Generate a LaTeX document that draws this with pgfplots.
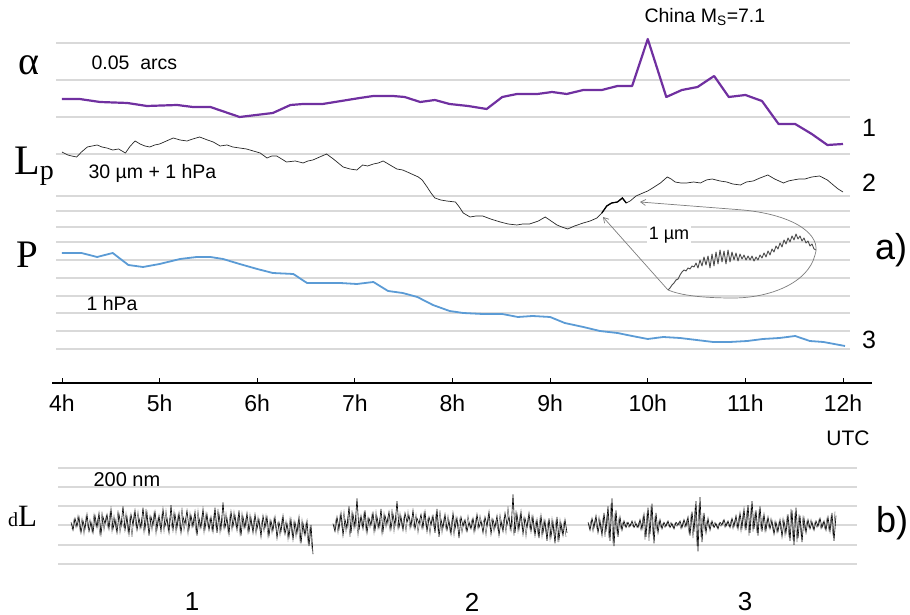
\documentclass[border=0pt]{standalone}
\usepackage{fontspec}
\setmainfont{Liberation Sans}
\newfontfamily\serifL{Liberation Serif}
\usepackage{pgfplots}
\pgfplotsset{compat=1.18}
\usetikzlibrary{arrows.meta}
\definecolor{alphacol}{RGB}{112,48,160}
\definecolor{pcol}{RGB}{91,155,213}
\definecolor{gridcol}{RGB}{217,217,217}
\definecolor{callout}{RGB}{125,125,125}
\definecolor{insetcol}{RGB}{75,75,75}
\definecolor{noisegray}{RGB}{110,110,110}
\newcommand{\fs}[1]{\fontsize{#1}{#1}\selectfont}

\begin{document}
\begin{tikzpicture}
\path[use as bounding box] (0pt,0pt) rectangle (910pt,615pt);

% horizontal guide lines, panel a
\foreach \y in {572,535,498,461,419,404,388,373,355,337,319,302,284,266}
  \draw[gridcol, line width=1.2pt] (56pt,\y pt) -- (850pt,\y pt);
% horizontal guide lines, panel b
\foreach \y in {147,128,109,90,70,51}
  \draw[gridcol, line width=1.2pt] (58pt,\y pt) -- (857pt,\y pt);

% ---------------- panel a ----------------
\begin{axis}[
  at={(52pt,232pt)}, anchor=south west, scale only axis,
  width=820pt, height=383pt,
  xmin=3.898, xmax=12.297, ymin=232, ymax=615,
  axis x line*=bottom, axis y line=none,
  xtick={4,5,6,7,8,9,10,11,12},
  xticklabels={4h,5h,6h,7h,8h,9h,10h,11h,12h},
  tick align=inside, major tick length=5pt,
  axis line style={line width=1.3pt, black},
  xtick style={line width=0.9pt, black},
  xticklabel style={font=\fs{23}, yshift=-8pt},
  clip=false,
]
% alpha, tilt (0.05 arcs scale)
\addplot[alphacol, line width=2.2pt, line join=round] coordinates {
(4.00,516) (4.18,516) (4.39,513) (4.67,512) (4.87,509) (5.18,510) (5.34,508)
(5.52,508) (5.82,498) (6.16,502) (6.34,510) (6.47,511) (6.67,511) (7.05,517)
(7.19,519) (7.39,519) (7.51,518) (7.67,513) (7.82,515) (7.97,511) (8.16,509)
(8.35,506) (8.51,518) (8.66,521) (8.87,521) (9.02,523) (9.17,521) (9.34,525)
(9.53,525) (9.69,529) (9.84,529) (10.00,576) (10.19,518) (10.35,525) (10.51,528)
(10.68,539) (10.83,518) (11.00,520) (11.17,514) (11.34,491) (11.51,491)
(11.68,481) (11.84,470) (12.00,471)};
% Lp, strain (30 um + 1 hPa scale)
\addplot[black!85, line width=0.7pt] coordinates {
(4.00,463) (4.02,462) (4.06,460) (4.10,459) (4.15,458) (4.20,463) (4.26,468)
(4.31,469) (4.36,470) (4.41,468) (4.46,467) (4.52,465) (4.58,466) (4.65,462)
(4.70,469) (4.75,474) (4.80,471) (4.85,469) (4.90,468) (4.95,470) (5.00,471)
(5.07,474) (5.14,477) (5.21,475) (5.28,474) (5.34,476) (5.41,478) (5.49,475)
(5.55,473) (5.62,469) (5.69,470) (5.75,468) (5.82,467) (5.89,466) (5.96,464)
(6.03,462) (6.10,457) (6.15,459) (6.20,459) (6.25,456) (6.30,453) (6.39,454)
(6.47,452) (6.52,454) (6.57,455) (6.64,458) (6.71,461) (6.78,456) (6.83,452)
(6.88,448) (6.95,446) (7.02,445) (7.08,450) (7.13,449) (7.19,451) (7.24,452)
(7.29,454) (7.36,450) (7.43,446) (7.49,445) (7.56,442) (7.65,438) (7.69,435)
(7.74,428) (7.78,422) (7.82,417) (7.88,415) (7.94,414) (8.03,413) (8.07,408)
(8.11,402) (8.18,398) (8.24,399) (8.31,399) (8.39,396) (8.49,393) (8.57,391)
(8.66,390) (8.72,391) (8.79,391) (8.88,394) (8.95,398) (9.01,394) (9.07,390)
(9.12,388) (9.18,386) (9.25,389) (9.34,392) (9.41,394) (9.48,397) (9.53,402)
(9.58,409) (9.63,412) (9.69,413) (9.74,417) (9.78,412) (9.82,414) (9.88,419)
(9.95,422) (10.00,424) (10.05,427) (10.13,432) (10.20,438) (10.24,436)
(10.28,433) (10.34,432) (10.40,432) (10.47,433) (10.54,432) (10.60,435)
(10.66,436) (10.74,434) (10.81,433) (10.87,431) (10.95,430) (11.01,433)
(11.08,434) (11.15,437) (11.23,440) (11.30,436) (11.39,432) (11.44,434)
(11.49,435) (11.55,436) (11.61,436) (11.68,438) (11.76,439) (11.84,435)
(11.90,430) (11.95,426) (12.00,423)};
% stretch of Lp shown enlarged in the inset
\addplot[black, line width=1.3pt] coordinates {
(9.53,402) (9.58,409) (9.63,412) (9.69,413) (9.74,417) (9.78,412)};
% P, atmospheric pressure (1 hPa scale)
\addplot[pcol, line width=1.8pt, line join=round] coordinates {
(4.00,362) (4.20,362) (4.36,358) (4.52,362) (4.68,350) (4.83,348) (5.00,351)
(5.21,356) (5.38,358) (5.52,358) (5.65,356) (5.82,351) (6.00,346) (6.16,342)
(6.37,341) (6.51,332) (6.67,332) (6.85,332) (7.02,331) (7.19,333) (7.34,324)
(7.49,322) (7.64,318) (7.80,310) (7.97,304) (8.11,302) (8.31,301) (8.51,301)
(8.67,298) (8.82,299) (9.00,298) (9.15,292) (9.34,288) (9.51,284) (9.69,282)
(9.84,279) (10.00,276) (10.16,278) (10.33,277) (10.50,275) (10.67,273)
(10.84,273) (11.02,274) (11.18,276) (11.35,277) (11.51,279) (11.66,274)
(11.80,273) (12.02,269)};
\end{axis}

% ---------------- inset: Lp detail, 1 um scale ----------------
\begin{axis}[
  at={(668pt,323pt)}, anchor=south west, scale only axis,
  width=148pt, height=62pt,
  xmin=0, xmax=148, ymin=0, ymax=62, hide axis, clip=false,
]
\addplot[insetcol, line width=0.9pt, line join=round] coordinates {
(0,2) (2,4) (4,7) (6,9) (8,12) (10,13) (12,17) (14,20) (16,22) (18,21)
(20,24) (22,23) (24,26) (26,25) (28,29) (30,24) (32,32) (34,26) (36,35)
(38,27) (40,36) (42,24) (44,38) (46,26) (48,40) (50,28) (52,42) (54,30)
(56,41) (58,28) (60,42) (62,30) (64,40) (66,32) (68,39) (70,31) (72,38)
(74,33) (76,37) (78,32) (80,36) (82,32) (84,36) (86,31) (88,35) (90,32)
(92,37) (94,34) (96,39) (98,35) (100,41) (102,37) (104,43) (106,40)
(108,46) (110,43) (112,49) (114,45) (116,52) (118,48) (120,54) (122,50)
(124,56) (126,52) (128,58) (130,53) (132,56) (134,51) (136,54) (138,49)
(140,51) (142,46) (144,48) (146,43) (148,42)};
\end{axis}

% callout around the inset
\draw[callout, line width=0.7pt, {Straight Barb[length=5pt,width=6pt]}-{Straight Barb[length=5pt,width=6pt]}]
  (640pt,413pt) -- (743pt,405pt)
  .. controls (795pt,400pt) and (822pt,380pt) .. (815pt,360pt)
  .. controls (808pt,332pt) and (770pt,317pt) .. (733pt,317pt)
  .. controls (700pt,317pt) and (680pt,320pt) .. (668pt,325pt)
  -- (603pt,398pt);
\node[fill=white, inner sep=1.5pt] at (669pt,380pt) {\fs{18}1 µm};

% ---------------- panel b ----------------
\begin{axis}[
  at={(50pt,0pt)}, anchor=south west, scale only axis,
  width=820pt, height=155pt,
  xmin=50, xmax=870, ymin=-68, ymax=49, hide axis, clip=false,
]
% record 1
\addplot[noisegray, line width=0.55pt] coordinates {
(72,-3) (74,4) (76,-2) (78,7) (80,-4) (82,5) (84,-7) (86,6) (88,-2) (90,4)
(92,-5) (94,8) (96,-1) (98,5) (100,-8) (102,10) (104,-4) (106,6) (108,-2) (110,9)
(112,-5) (114,7) (116,-3) (118,11) (120,-6) (122,4) (124,-2) (126,9) (128,-5) (130,6)
(132,-9) (134,8) (136,-1) (138,10) (140,-3) (142,5) (144,-6) (146,12) (148,-2) (150,7)
(152,-4) (154,9) (156,-7) (158,5) (160,-1) (162,8) (164,-5) (166,11) (168,-3) (170,6)
(172,-2) (174,10) (176,-6) (178,7) (180,-3) (182,13) (184,-4) (186,5) (188,-7) (190,9)
(192,-2) (194,6) (196,-5) (198,11) (200,-3) (202,7) (204,-6) (206,9) (208,-1) (210,5)
(212,-4) (214,8) (216,-2) (218,12) (220,-6) (222,6) (224,-3) (226,9) (228,-5) (230,7)
(232,-4) (234,10) (236,-1) (238,6) (240,-7) (242,9) (244,-3) (246,5) (248,-6) (250,8)
(252,-2) (254,4) (256,-7) (258,6) (260,-4) (262,3) (264,-5) (266,7) (268,-9) (270,4)
(272,-6) (274,5) (276,-3) (278,2) (280,-8) (282,4) (284,-5) (286,3) (288,-11) (290,5)
(292,-7) (294,3) (296,-9) (298,2) (300,-12) (302,4) (304,-6) (306,1) (308,-13) (310,-2)
(312,-18)};
\addplot[black, line width=0.6pt] coordinates {
(71,2) (73,-4) (75,5) (77,-1) (79,6) (81,-6) (83,3) (85,-3) (87,8) (89,-5)
(91,2) (93,-6) (95,7) (97,-2) (99,9) (101,-7) (103,6) (105,1) (107,8) (109,-3)
(111,12) (113,-3) (115,4) (117,-6) (119,8) (121,-1) (123,14) (125,-4) (127,6) (129,-7)
(131,8) (133,0) (135,11) (137,-4) (139,5) (141,-2) (143,13) (145,-3) (147,9) (149,-8)
(151,6) (153,0) (155,10) (157,-3) (159,7) (161,-5) (163,12) (165,-1) (167,5) (169,-6)
(171,15) (173,-4) (175,8) (177,-2) (179,9) (181,-6) (183,6) (185,1) (187,11) (189,-3)
(191,7) (193,-1) (195,10) (197,-8) (199,5) (201,-2) (203,12) (205,-3) (207,8) (209,-4)
(211,6) (213,-5) (215,13) (217,-6) (219,8) (221,-3) (223,17) (225,-2) (227,5) (229,-7)
(231,10) (233,-1) (235,7) (237,-4) (239,11) (241,-8) (243,6) (245,-2) (247,9) (249,-5)
(251,5) (253,-6) (255,8) (257,-3) (259,4) (261,-9) (263,7) (265,-2) (267,6) (269,-8)
(271,3) (273,-4) (275,6) (277,-10) (279,2) (281,-5) (283,7) (285,-7) (287,1) (289,-9)
(291,4) (293,-11) (295,2) (297,-6) (299,6) (301,-14) (303,1) (305,-8) (307,3) (309,-16)
(311,0) (313,-22)};
% record 2
\addplot[noisegray, line width=0.55pt] coordinates {
(334,-3) (336,4) (338,-6) (340,7) (342,-2) (344,10) (346,-5) (348,6) (350,-9) (352,11)
(354,-3) (356,7) (358,-8) (360,5) (362,-1) (364,9) (366,-4) (368,6) (370,-2) (372,8)
(374,-6) (376,10) (378,-3) (380,5) (382,-7) (384,9) (386,-2) (388,6) (390,-4) (392,12)
(394,-5) (396,7) (398,-3) (400,9) (402,-1) (404,6) (406,-5) (408,10) (410,-3) (412,5)
(414,-2) (416,8) (418,-6) (420,4) (422,-3) (424,9) (426,-1) (428,5) (430,-7) (432,6)
(434,-2) (436,8) (438,-4) (440,11) (442,-6) (444,5) (446,-3) (448,7) (450,-5) (452,4)
(454,-8) (456,6) (458,-2) (460,5) (462,-6) (464,3) (466,-4) (468,7) (470,-2) (472,4)
(474,-6) (476,5) (478,-3) (480,7) (482,-1) (484,4) (486,-8) (488,6) (490,-2) (492,5)
(494,-5) (496,3) (498,-4) (500,8) (502,-2) (504,5) (506,-6) (508,14) (510,-3) (512,6)
(514,-8) (516,11) (518,-5) (520,7) (522,-2) (524,6) (526,-9) (528,5) (530,-3) (532,7)
(534,-5) (536,3) (538,-7) (540,5) (542,-9) (544,4) (546,-6) (548,2) (550,-11) (552,5)
(554,-7) (556,3) (558,-13) (560,4) (562,-6) (564,2) (566,-9)};
\addplot[black, line width=0.6pt] coordinates {
(333,1) (335,-5) (337,6) (339,-3) (341,9) (343,-8) (345,4) (347,-2) (349,14) (351,-6)
(353,8) (355,-1) (357,20) (359,-4) (361,7) (363,-3) (365,11) (367,-6) (369,5) (371,0)
(373,9) (375,-4) (377,6) (379,-2) (381,12) (383,-5) (385,7) (387,1) (389,10) (391,-3)
(393,8) (395,0) (397,18) (399,-2) (401,6) (403,-4) (405,9) (407,2) (409,7) (411,-1)
(413,11) (415,-3) (417,5) (419,1) (421,8) (423,-2) (425,10) (427,-5) (429,6) (431,0)
(433,7) (435,-6) (437,12) (439,-9) (441,4) (443,-2) (445,8) (447,-4) (449,3) (451,-7)
(453,9) (455,-3) (457,5) (459,-10) (461,6) (463,-1) (465,4) (467,-5) (469,2) (471,-3)
(473,5) (475,-4) (477,8) (479,-2) (481,3) (483,-6) (485,6) (487,-1) (489,10) (491,-7)
(493,4) (495,-2) (497,7) (499,-8) (501,3) (503,-5) (505,9) (507,0) (509,6) (511,-4)
(513,23) (515,-6) (517,8) (519,-3) (521,10) (523,-7) (525,5) (527,-2) (529,9) (531,-5)
(533,6) (535,-8) (537,4) (539,-10) (541,7) (543,-6) (545,3) (547,-12) (549,5) (551,-9)
(553,2) (555,-14) (557,6) (559,-11) (561,1) (563,-8) (565,4) (567,-6)};
% record 3
\addplot[noisegray, line width=0.55pt] coordinates {
(589,-2) (591,3) (593,-5) (595,4) (597,-3) (599,6) (601,-4) (603,5) (605,-9) (607,8)
(609,-10) (611,16) (613,-14) (615,9) (617,-6) (619,5) (621,-3) (623,2) (625,-1) (627,2)
(629,-2) (631,1) (633,-1) (635,3) (637,-2) (639,2) (641,-4) (643,6) (645,-11) (647,9)
(649,-12) (651,14) (653,-8) (655,6) (657,-4) (659,3) (661,-2) (663,1) (665,-2) (667,2)
(669,-1) (671,2) (673,-2) (675,1) (677,-1) (679,2) (681,-3) (683,2) (685,-2) (687,4)
(689,-6) (691,7) (693,-10) (695,13) (697,-16) (699,15) (701,-9) (703,7) (705,-4) (707,3)
(709,-2) (711,2) (713,-1) (715,2) (717,-2) (719,1) (721,-1) (723,3) (725,-2) (727,2)
(729,-1) (731,3) (733,-3) (735,4) (737,-2) (739,6) (741,-5) (743,8) (745,-3) (747,11)
(749,-8) (751,13) (753,-5) (755,9) (757,-6) (759,10) (761,-3) (763,6) (765,-5) (767,4)
(769,-2) (771,5) (773,-4) (775,3) (777,-6) (779,2) (781,-4) (783,5) (785,-8) (787,6)
(789,-9) (791,12) (793,-11) (795,9) (797,-13) (799,8) (801,-7) (803,6) (805,-4) (807,3)
(809,-2) (811,4) (813,-3) (815,2) (817,-2) (819,4) (821,-3) (823,2) (825,-3) (827,5)
(829,-4) (831,6) (833,-8) (835,10)};
\addplot[black, line width=0.6pt] coordinates {
(588,2) (590,-4) (592,5) (594,-2) (596,7) (598,-6) (600,3) (602,-8) (604,9) (606,-5)
(608,14) (610,-12) (612,20) (614,-16) (616,11) (618,-9) (620,6) (622,-4) (624,3) (626,-2)
(628,2) (630,-1) (632,3) (634,-2) (636,1) (638,-2) (640,4) (642,-3) (644,8) (646,-9)
(648,13) (650,-7) (652,16) (654,-14) (656,9) (658,-6) (660,4) (662,-3) (664,2) (666,-1)
(668,3) (670,-2) (672,1) (674,-3) (676,2) (678,0) (680,3) (682,-2) (684,4) (686,-1)
(688,6) (690,-8) (692,10) (694,-5) (696,18) (698,-20) (700,21) (702,-13) (704,9) (706,-6)
(708,5) (710,-4) (712,3) (714,-2) (716,1) (718,-3) (720,2) (722,0) (724,4) (726,-1)
(728,3) (730,-2) (732,5) (734,-1) (736,7) (738,-3) (740,9) (742,-2) (744,12) (746,-4)
(748,15) (750,-6) (752,18) (754,-3) (756,11) (758,-8) (760,14) (762,-5) (764,8) (766,-4)
(768,6) (770,-3) (772,3) (774,-7) (776,2) (778,-5) (780,4) (782,-9) (784,3) (786,-6)
(788,8) (790,-12) (792,11) (794,-15) (796,13) (798,-10) (800,7) (802,-13) (804,5) (806,-6)
(808,4) (810,-3) (812,2) (814,-4) (816,3) (818,-1) (820,5) (822,-2) (824,3) (826,-4)
(828,6) (830,-5) (832,9) (834,-12) (836,7)};
\end{axis}

% ---------------- labels ----------------
\node at (29pt,550pt) {\serifL\fs{40}α};
\node[anchor=west] at (88pt,552pt) {\fs{19.5}0.05\ \ arcs};
\node[anchor=base west, inner sep=0pt] at (14pt,440pt) {\serifL\fs{42}L\raisebox{-5pt}{\fs{28}p}};
\node[anchor=west] at (85pt,442pt) {\fs{19.5}30 µm + 1 hPa};
\node[anchor=base west, inner sep=0pt] at (16pt,347pt) {\serifL\fs{39}P};
\node[anchor=west] at (83pt,311pt) {\fs{19.5}1 hPa};
\node[anchor=west] at (641pt,598pt) {\fs{19.5}China M\textsubscript{S}=7.1};
\node at (869pt,487pt) {\fs{25}1};
\node at (869pt,432pt) {\fs{25}2};
\node at (869pt,275pt) {\fs{25}3};
\node at (891pt,365pt) {\fs{36}a)};
\node at (848pt,177pt) {\fs{21}UTC};

\node[anchor=west] at (90pt,135pt) {\fs{20}200 nm};
\node[anchor=base west, inner sep=0pt] at (8pt,88pt) {\serifL\fs{20}d\fs{31}L};
\node at (892pt,92pt) {\fs{36}b)};
\node at (192pt,13pt) {\fs{26}1};
\node at (472pt,13pt) {\fs{26}2};
\node at (745pt,13pt) {\fs{26}3};
\end{tikzpicture}
\end{document}
